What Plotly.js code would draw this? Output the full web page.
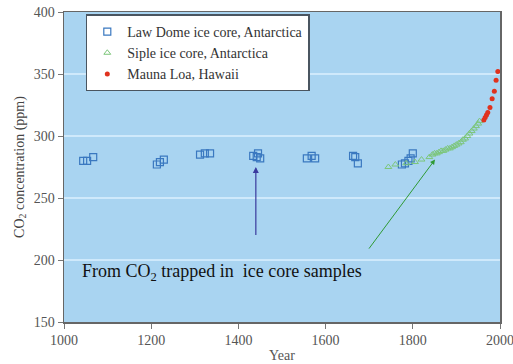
<!DOCTYPE html>
<html>
<head>
<meta charset="utf-8">
<script src="https://cdn.plot.ly/plotly-3.0.1.min.js"></script>
<style>html,body{margin:0;padding:0;background:#fff;}#chart{width:513px;height:364px;}</style>
</head>
<body>
<div id="chart"></div>
<script>
// Law Dome ice core, Antarctica
var lawDomeYears = [1044, 1053, 1067, 1213, 1220, 1229, 1312, 1323, 1335, 1434, 1445, 1450, 1442, 1557, 1568, 1576, 1663, 1668, 1674, 1775, 1782, 1790, 1795, 1800];
var lawDomePpm   = [280, 280, 283, 277, 279, 281, 285, 286, 286, 284, 286, 282, 283, 282, 284, 282, 284, 283, 278, 277, 278, 280, 282, 286];
// Siple ice core, Antarctica
var sipleYears = [1744, 1760, 1785, 1805, 1820, 1838, 1845, 1850, 1855, 1860, 1865, 1870, 1875, 1880, 1885, 1890, 1895, 1900, 1905, 1910, 1915, 1920, 1925, 1930, 1935, 1940, 1945, 1950, 1953];
var siplePpm   = [275, 277, 278, 279, 281, 283, 285, 286, 286, 287, 288, 288, 289, 290, 290, 291, 292, 293, 294, 295, 297, 298, 300, 302, 304, 306, 308, 310, 312];
// Mauna Loa, Hawaii
var maunaLoaYears = [1963, 1966, 1969, 1972, 1977, 1982, 1987, 1991, 1995];
var maunaLoaPpm   = [313, 315, 317, 319, 323, 330, 336, 345, 352];

var serif = "Liberation Serif";

var traces = [
  {x: lawDomeYears, y: lawDomePpm, mode: 'markers', type: 'scatter', name: 'Law Dome ice core, Antarctica',
   marker: {symbol: 'square-open', size: 7, color: '#3a78c0', line: {width: 1.2}}},
  {x: sipleYears, y: siplePpm, mode: 'markers', type: 'scatter', name: 'Siple ice core, Antarctica',
   marker: {symbol: 'triangle-up-open', size: 6, color: '#7cc67a', line: {width: 1}}},
  {x: maunaLoaYears, y: maunaLoaPpm, mode: 'markers', type: 'scatter', name: 'Mauna Loa, Hawaii',
   marker: {symbol: 'circle', size: 5, color: '#e0321e'}}
];

var layout = {
  width: 513, height: 364,
  margin: {l: 64, r: 13, t: 12, b: 42},
  paper_bgcolor: '#ffffff',
  plot_bgcolor: '#a9d4f1',
  font: {family: serif, size: 13, color: '#444'},
  showlegend: true,
  legend: {x: 0.05, y: 0.992, xanchor: 'left', yanchor: 'top', bgcolor: '#ffffff', bordercolor: '#4a5560', borderwidth: 1.5,
           font: {family: serif, size: 14, color: '#333'}, tracegroupgap: 0, itemwidth: 30},
  xaxis: {range: [1000, 2000], dtick: 200, tick0: 1000, showgrid: false, zeroline: false,
          showline: true, linecolor: '#666', linewidth: 1.5, mirror: true,
          ticks: 'outside', ticklen: 5, tickcolor: '#777', ticklabeloverflow: 'allow',
          tickfont: {family: serif, size: 14, color: '#555'},
          title: {text: 'Year', font: {family: serif, size: 14, color: '#555'}, standoff: 3}},
  yaxis: {range: [150, 400], dtick: 50, tick0: 150, showgrid: true, gridcolor: '#cfe9fb', gridwidth: 2, zeroline: false,
          showline: true, linecolor: '#666', linewidth: 1.5, mirror: true,
          ticks: 'outside', ticklen: 5, tickcolor: '#777',
          tickfont: {family: serif, size: 14, color: '#555'},
          title: {text: 'CO<sub>2</sub> concentration (ppm)', font: {family: serif, size: 14, color: '#444'}, standoff: 6}},
  annotations: [
    {x: 1037, y: 190, xref: 'x', yref: 'y', xanchor: 'left', yanchor: 'middle', showarrow: false,
     text: 'From CO<sub>2</sub> trapped in  ice core samples', font: {family: serif, size: 18, color: '#111'}},
    {x: 1440, y: 275, ax: 1440, ay: 219, xref: 'x', yref: 'y', axref: 'x', ayref: 'y', text: '',
     showarrow: true, arrowhead: 2, arrowsize: 1, arrowwidth: 1.2, arrowcolor: '#3a3a9e'},
    {x: 1851, y: 281, ax: 1697, ay: 208, xref: 'x', yref: 'y', axref: 'x', ayref: 'y', text: '',
     showarrow: true, arrowhead: 2, arrowsize: 1, arrowwidth: 1, arrowcolor: '#2f9a34'}
  ]
};

Plotly.newPlot('chart', traces, layout, {displayModeBar: false, staticPlot: true});
</script>
</body>
</html>
